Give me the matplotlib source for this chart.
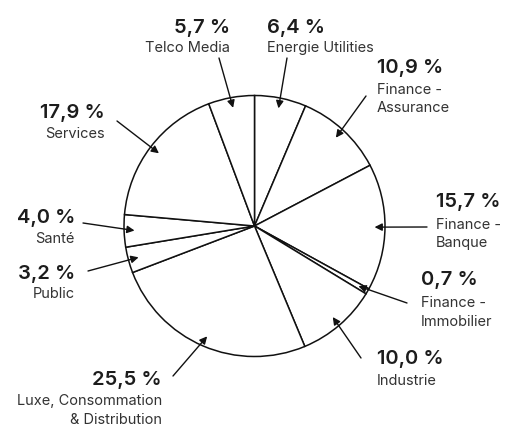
import numpy as np
import matplotlib
matplotlib.use("Agg")
import matplotlib.pyplot as plt

# ---- data ----
categories = ["Energie Utilities", "Finance -\nAssurance", "Finance -\nBanque",
              "Finance -\nImmobilier", "Industrie", "Luxe, Consommation\n& Distribution",
              "Public", "Santé", "Services", "Telco Media"]
values = [6.4, 10.9, 15.7, 0.7, 10.0, 25.5, 3.2, 4.0, 17.9, 5.7]
pct_labels = ["6,4 %", "10,9 %", "15,7 %", "0,7 %", "10,0 %", "25,5 %",
              "3,2 %", "4,0 %", "17,9 %", "5,7 %"]

# ---- layout (pixel coords, y from top) ----
W, H = 506, 426
cx, cy, R = 254.5, 226, 130.5
# (anchor x, pct baseline, label baseline, ha, arrow start x, arrow start y)
layout = [
    (267, 33, 52, "left", 287, 58),
    (377, 73, 94, "left", 366, 96),
    (436, 207, 229, "left", 427, 227),
    (421, 285, 307, "left", 407, 303),
    (377, 364, 385, "left", 361, 358),
    (162, 385, 405, "right", 173, 376),
    (75, 279, 298, "right", 88, 271),
    (75, 223, 243, "right", 83, 223),
    (105, 118, 138, "right", 117, 121),
    (230, 33, 52, "right", 219, 58),
]
line_gap = 18.5

fig = plt.figure(figsize=(W / 100, H / 100), dpi=100)
ax = fig.add_axes([0, 0, 1, 1])
ax.pie(values, startangle=90, counterclock=False, center=(cx, H - cy), radius=R,
       wedgeprops=dict(facecolor="white", edgecolor="#111111", linewidth=1.1))
ax.set_xlim(0, W)
ax.set_ylim(0, H)
ax.set_aspect("equal")
ax.axis("off")

cum = np.concatenate([[0], np.cumsum(values)[:-1]])
mid = np.deg2rad(90 - 3.6 * (cum + np.array(values) / 2))

pct_font = dict(family=["Inter", "DejaVu Sans"], fontsize=14.5, fontweight="semibold", color="#1c1c1c")
lab_font = dict(family=["Inter", "DejaVu Sans"], fontsize=10.5, color="#333333")

for i, (ax_x, pb, lb, ha, sx, sy) in enumerate(layout):
    ax.text(ax_x, H - pb, pct_labels[i], ha=ha, va="baseline", **pct_font)
    lines = categories[i].split("\n")
    for j, line in enumerate(lines):
        ax.text(ax_x, H - (lb + line_gap * j), line, ha=ha, va="baseline", **lab_font)
    tx = cx + 0.92 * R * np.cos(mid[i])
    ty = (H - cy) + 0.92 * R * np.sin(mid[i])
    ax.annotate("", xy=(tx, ty), xytext=(sx, H - sy),
                arrowprops=dict(arrowstyle="-|>", color="#111111", lw=1.0,
                                mutation_scale=11, shrinkA=0, shrinkB=0))

fig.savefig("out.png", dpi=100)
